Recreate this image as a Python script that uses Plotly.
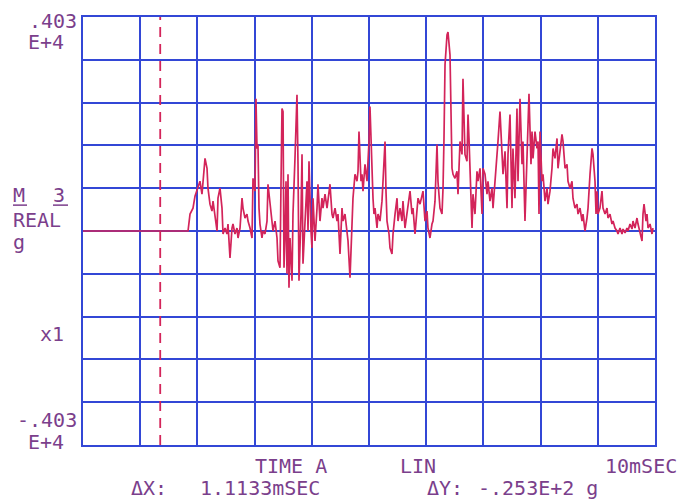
import plotly.graph_objects as go

# Time (ms) and acceleration (g)
time_ms = [0.0, 1.836, 1.871, 1.923, 1.958, 2.010, 2.045, 2.080, 2.098, 2.133, 2.168, 2.185, 2.220, 2.255,
           2.273, 2.308, 2.343, 2.360, 2.395, 2.430, 2.448, 2.483, 2.517, 2.535, 2.570, 2.605, 2.622, 2.657,
           2.692, 2.710, 2.745, 2.780, 2.797, 2.832, 2.867, 2.885, 2.920, 2.955, 2.972, 3.007, 3.024, 3.042,
           3.059, 3.077, 3.094, 3.129, 3.147, 3.182, 3.217, 3.234, 3.269, 3.304, 3.322, 3.357, 3.392, 3.409,
           3.444, 3.462, 3.479, 3.497, 3.514, 3.531, 3.549, 3.566, 3.584, 3.601,
           3.619, 3.654, 3.671, 3.706, 3.741, 3.759, 3.776, 3.811, 3.829, 3.846, 3.881, 3.916, 3.934, 3.951,
           3.986, 4.003, 4.021, 4.056, 4.091, 4.108, 4.143, 4.178, 4.196, 4.231, 4.266, 4.283, 4.318, 4.353,
           4.371, 4.406, 4.441, 4.458, 4.493, 4.528, 4.545, 4.580, 4.615, 4.633, 4.668, 4.703, 4.720, 4.755,
           4.790, 4.808, 4.825, 4.860, 4.878, 4.895, 4.930, 4.965, 4.983, 5.000, 5.017, 5.035, 5.070, 5.087,
           5.105, 5.140, 5.157, 5.192, 5.227, 5.245, 5.280, 5.297, 5.315, 5.350, 5.367, 5.402, 5.420, 5.455,
           5.490, 5.507,
           5.542, 5.577, 5.594, 5.629, 5.664, 5.682, 5.717, 5.752, 5.769, 5.804, 5.839, 5.857, 5.892, 5.927,
           5.944, 5.979, 6.014, 6.031, 6.066, 6.101, 6.119, 6.154, 6.189, 6.206, 6.241, 6.276, 6.294, 6.311,
           6.329, 6.364, 6.381, 6.416, 6.434, 6.451, 6.469, 6.503, 6.538, 6.556, 6.591, 6.626, 6.643, 6.661,
           6.678, 6.713, 6.731, 6.748, 6.783, 6.801, 6.818, 6.853, 6.888, 6.906, 6.941, 6.976, 6.993, 7.028,
           7.063, 7.080, 7.115, 7.150, 7.168, 7.203, 7.238, 7.255, 7.290, 7.325, 7.343, 7.378, 7.413, 7.430,
           7.465, 7.500, 7.517, 7.552, 7.587, 7.605, 7.640, 7.675, 7.692, 7.727, 7.762, 7.780, 7.797, 7.832,
           7.850, 7.867, 7.902, 7.937, 7.955, 7.972, 7.990, 8.024, 8.042, 8.077, 8.112, 8.129, 8.164, 8.199,
           8.217, 8.252, 8.287, 8.304, 8.339, 8.374, 8.392, 8.427, 8.462, 8.479, 8.514, 8.549, 8.566, 8.601,
           8.636, 8.654, 8.689, 8.724, 8.741, 8.776, 8.811, 8.829, 8.864, 8.899, 8.916, 8.951, 8.969, 8.986,
           9.003, 9.038, 9.073, 9.091, 9.126, 9.161, 9.178, 9.213, 9.248, 9.266, 9.301, 9.336, 9.353, 9.388,
           9.423, 9.441, 9.476, 9.510, 9.528, 9.563, 9.598, 9.615, 9.650, 9.685, 9.703, 9.738, 9.773, 9.790,
           9.808, 9.843, 9.860, 9.878, 9.913, 9.948, 9.965]

accel_g = [0, 0, 319, 431, 656, 806, 937, 693, 881, 1368, 1181, 806, 506, 375,
           562, 319, 0, 618, 806, 431, -56, 56, -56, 131, -506, 56, 131, -56,
           56, -131, 56, 618, 431, 244, 319, 187, 56, -131, 993, 750, 2492, 1555,
           1630, 431, 131, -131, 0, -56, 187, 881, 562, 131, 0, 187, -131, -562,
           -693, 937, 2305, 2249, -693, -131, 937, -806, 1068, -1068,
           -131, -937, 319, 1368, 2567, 1256, -937, 319, 1443, -618, 319, 937, 0, 1312,
           0, -319, 618, -187, 431, 881, 187, 618, 431, 693, 431, 562, 881, 319,
           244, 431, 187, 319, -431, 431, 187, 319, 0, -187, -881, 187, 618, 1068,
           937, 1124, 1874, 937, 1068, 750, 1256, 937, 1312, 1687, 2343, 1687, 618, 319,
           431, 56, 319, 187, 562, 937, 1687, 750, 187, -56, -319, -431, -56, 319,
           618, 187,
           431, 187, 562, 56, 319, 506, 750, 319, 431, -56, 431, 618, 506, 693,
           750, 187, 375, 56, -131, 131, 187, 562, 1630, 937, 431, 319, 806, 1743,
           3130, 3692, 3748, 3317, 1818, 1181, 1068, 993, 1124, 693, 1687, 1443, 2867, 2061,
           1443, 1312, 2193, 1743, 319, 56, 693, 319, 1124, 937, 1181, 319, 1181, 1068,
           693, 937, 562, 806, 431, 937, 1256, 1687, 2249, 1312, 1068, 1499, 431, 1443,
           2193, 431, 1555, 618, 2305, 937, 2492, 1256, 1687, 187, 1555, 2061, 2586, 1256,
           1874, 1368, 1874, 1555, 1687, 319, 1874, 937, 1068, 562, 806, 506, 750, 1181,
           1555, 1368, 1743, 1181, 1555, 1818, 1687, 1181, 1256, 937, 806, 937, 618, 431,
           506, 319, 431, 187, 319, 0, 244, 431, 1068, 1555, 1443, 937, 319, 750,
           319, 431, 750, 431, 319, 431, 244, 319, 131, 187, 56, 0, -56, 56,
           -56, 37, -37, 56, 0, 131, 37, 187, 56, 244, 131, -56, -187, 319,
           506, 187, 319, 56, 131, -56, 56]

x_range = [0, 10]
y_range = [-4030, 4030]
y_div = 806
marker_x = 1.35

RED = "#d3245a"
BLUE = "#3347d6"
TXT = "#7b3f8c"
FONT = "DejaVu Sans Mono"

fig = go.Figure()
fig.add_trace(go.Scatter(x=time_ms, y=accel_g, mode="lines",
                         line=dict(color=RED, width=1.7), hoverinfo="skip"))

fig.add_shape(type="line", x0=marker_x, x1=marker_x, y0=y_range[0], y1=y_range[1],
              xref="x", yref="y", line=dict(color=RED, width=1.8, dash="10px,7px"))

fig.update_xaxes(range=x_range, dtick=1, tick0=0, showgrid=True, gridcolor=BLUE, gridwidth=1.6,
                 showticklabels=False, ticks="", zeroline=False, showline=True, mirror=True,
                 linecolor=BLUE, linewidth=1.6)
fig.update_yaxes(range=y_range, dtick=y_div, tick0=0, showgrid=True, gridcolor=BLUE, gridwidth=1.6,
                 showticklabels=False, ticks="", zeroline=False, showline=True, mirror=True,
                 linecolor=BLUE, linewidth=1.6)

# page body has an 8px margin; figure sized so the plot sits where the reference has it
OFF = 8
W, H = 684, 492
L, R, T, B = 75, 37, 7, 55
pw, ph = W - L - R, H - T - B

def px(x):
    return (x - OFF - L) / pw

def py(y):
    return (H - B - (y - OFF)) / ph

def txt(s, x, y, anchor="left"):
    fig.add_annotation(text=s, x=px(x), y=py(y), xref="paper", yref="paper", showarrow=False,
                       xanchor=anchor, yanchor="middle",
                       font=dict(family=FONT, size=20, color=TXT))

txt(".403", 79, 19, "right")
txt("E+4", 66, 40, "right")
txt("M", 11, 194)
txt("3", 51, 194)
txt("REAL", 11, 219)
txt("g", 11, 241)
txt("x1", 38, 333)
txt("-.403", 79, 420, "right")
txt("E+4", 66, 442, "right")
txt("TIME A", 253, 466)
txt("LIN", 398, 466)
txt("10mSEC", 679, 466, "right")
txt("ΔX:", 129, 488)
txt("1.1133mSEC", 198, 488)
txt("ΔY:", 425, 488)
txt("-.253E+2 g", 476, 488)

for x0, x1 in [(13, 27), (53, 68)]:
    fig.add_shape(type="line", xref="paper", yref="paper", x0=px(x0), x1=px(x1),
                  y0=py(204), y1=py(204), line=dict(color=TXT, width=1.5))

fig.update_layout(width=W, height=H, margin=dict(l=L, r=R, t=T, b=B),
                  paper_bgcolor="white", plot_bgcolor="white", showlegend=False)

fig.write_html("out.html")
